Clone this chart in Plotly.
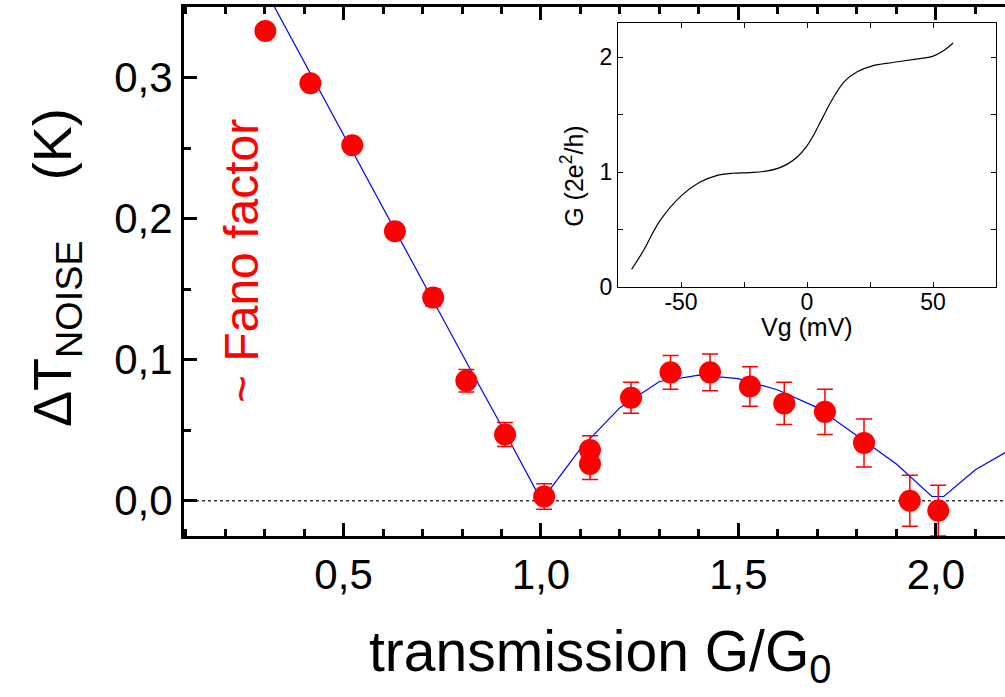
import plotly.graph_objects as go

# main panel: noise temperature vs transmission
transmission = [0.302, 0.416, 0.522, 0.630, 0.727, 0.811, 0.909, 1.008, 1.124, 1.124,
                1.228, 1.328, 1.428, 1.529, 1.616, 1.719, 1.818, 1.934, 2.006]
delta_t = [0.333, 0.296, 0.252, 0.191, 0.144, 0.085, 0.047, 0.003, 0.036, 0.026,
           0.073, 0.091, 0.091, 0.081, 0.069, 0.063, 0.041, 0.000, -0.007]
delta_t_err = [0.004, 0.004, 0.005, 0.005, 0.006, 0.008, 0.0085, 0.009, 0.010, 0.011,
               0.011, 0.012, 0.013, 0.014, 0.015, 0.016, 0.017, 0.018, 0.018]

# theory curve
fit_x = [0.30, 0.40, 0.50, 0.60, 0.70, 0.80, 0.90, 0.99, 1.02, 1.10, 1.20, 1.30, 1.40,
         1.50, 1.60, 1.70, 1.80, 1.90, 1.99, 2.02, 2.10, 2.20]
fit_y = [0.363, 0.311, 0.260, 0.208, 0.156, 0.104, 0.053, 0.006, 0.007, 0.037, 0.066,
         0.0845, 0.089, 0.0865, 0.0785, 0.066, 0.046, 0.026, 0.003, 0.003, 0.022, 0.038]

# inset: conductance vs gate voltage
vg = [-69.6, -65, -58.4, -49.8, -42.6, -35.9, -29.4, -22.8, -16.2, -11.0, -7.5, -4.0,
      0.0, 2.3, 6.3, 10.2, 14.8, 20.1, 26.0, 34, 43.2, 49.8, 53.8, 58]
g_cond = [0.153, 0.313, 0.576, 0.796, 0.912, 0.971, 0.991, 0.997, 1.009, 1.038, 1.075,
          1.13, 1.23, 1.31, 1.48, 1.64, 1.79, 1.877, 1.927, 1.956, 1.986, 2.009, 2.053,
          2.126]
vg_ticks = [-50, 0, 50]
vg_ticklabels = ["-50", "0", "50"]

FONT = "Arial, Liberation Sans, sans-serif"

# plot area in pixels (left, top, right, bottom)
L, T, R, B = 184, 7, 1005, 536


def px_x(px):
    return (px - L) / (R - L)


def px_y(py):
    return (B - py) / (B - T)


fig = go.Figure()

fig.add_trace(go.Scatter(x=fit_x, y=fit_y, mode="lines",
                         line=dict(color="#0000ff", width=1.2), xaxis="x", yaxis="y"))
fig.add_trace(go.Scatter(x=transmission, y=delta_t, mode="markers",
                         marker=dict(color="#ff0000", size=22),
                         error_y=dict(type="data", array=delta_t_err, color="#ff0000",
                                      thickness=1.5, width=8),
                         xaxis="x", yaxis="y"))
fig.add_trace(go.Scatter(x=vg, y=g_cond, mode="lines", line_shape="spline",
                         line=dict(color="black", width=1.2), xaxis="x2", yaxis="y2"))

# dotted/dashed reference lines
fig.add_shape(type="line", xref="x domain", yref="y", x0=0, x1=1, y0=0, y1=0,
              line=dict(color="#333333", width=1.5, dash="dot"), layer="below")
for lvl in [1, 2]:
    fig.add_shape(type="line", xref="x2 domain", yref="y2", x0=0, x1=1, y0=lvl, y1=lvl,
                  line=dict(color="#555555", width=1, dash="dash"), layer="below")

main_ax = dict(showline=True, linewidth=3, linecolor="black", ticks="inside",
               tickwidth=2.5, ticklen=13, tickcolor="black", showgrid=False,
               zeroline=False, tickfont=dict(family=FONT, size=42, color="black"),
               tickformat=".1f")
fig.update_layout(
    xaxis=dict(main_ax, range=[0.096, 2.175], dtick=0.5, tick0=0, mirror="ticks",
               minor=dict(dtick=0.1, ticklen=7, tickwidth=2.5, ticks="inside",
                          tickcolor="black"),
               domain=[0, 1], anchor="y"),
    yaxis=dict(main_ax, range=[-0.025, 0.35], dtick=0.1, tick0=0,
               minor=dict(dtick=0.05, ticklen=7, tickwidth=2.5, ticks="inside",
                          tickcolor="black"),
               domain=[0, 1], anchor="x"),
)

inset_ax = dict(showline=True, linewidth=1.2, linecolor="black", ticks="inside",
                tickwidth=1, ticklen=5, tickcolor="black", mirror="ticks",
                showgrid=False, zeroline=False,
                tickfont=dict(family=FONT, size=23, color="black"))
fig.update_layout(
    xaxis2=dict(inset_ax, range=[-75, 75], tickmode="array", tickvals=vg_ticks,
                ticktext=vg_ticklabels, ticklabelstandoff=-6,
                minor=dict(tickmode="linear", tick0=0, dtick=25, ticklen=5,
                           ticks="inside", tickcolor="black"),
                domain=[px_x(618), px_x(996)], anchor="y2"),
    yaxis2=dict(inset_ax, range=[0, 2.3], dtick=1, tick0=0,
                minor=dict(dtick=0.5, ticklen=5, ticks="inside", tickcolor="black"),
                domain=[px_y(287), px_y(23)], anchor="x2"),
)

fig.update_layout(annotations=[
    dict(text="transmission G/G<sub>0</sub>", x=px_x(600), y=px_y(617),
         xref="paper", yref="paper", xanchor="center", yanchor="top", showarrow=False,
         font=dict(family=FONT, size=57, color="black")),
    dict(text="ΔT<sub>NOISE</sub>" + "\u00a0" * 4 + "(K)", x=px_x(56), y=px_y(268),
         xref="paper", yref="paper", xanchor="center", yanchor="middle",
         textangle=-90, showarrow=False,
         font=dict(family=FONT, size=54, color="black")),
    dict(text="~ Fano factor", x=px_x(241), y=px_y(261), xref="paper", yref="paper",
         xanchor="center", yanchor="middle", textangle=-90, showarrow=False,
         font=dict(family=FONT, size=48, color="#ff0000")),
    dict(text="G (2e<sup>2</sup>/h)", x=px_x(572), y=0.96, xref="paper", yref="y2",
         xanchor="center", yanchor="middle", textangle=-90, showarrow=False,
         font=dict(family=FONT, size=25, color="black")),
    dict(text="Vg (mV)", x=0, y=px_y(327), xref="x2", yref="paper",
         xanchor="center", yanchor="middle", showarrow=False,
         font=dict(family=FONT, size=25, color="black")),
])

fig.update_layout(
    width=1005, height=697, autosize=False,
    margin=dict(l=L, r=1005 - R, t=T, b=697 - B),
    paper_bgcolor="white", plot_bgcolor="white",
    separators=",.", showlegend=False,
    font=dict(family=FONT, color="black"),
)

# the page's default body margin would shift the figure by 8px
fig.write_html("out.html", config={"displayModeBar": False},
               post_script="document.body.style.margin='0';")
